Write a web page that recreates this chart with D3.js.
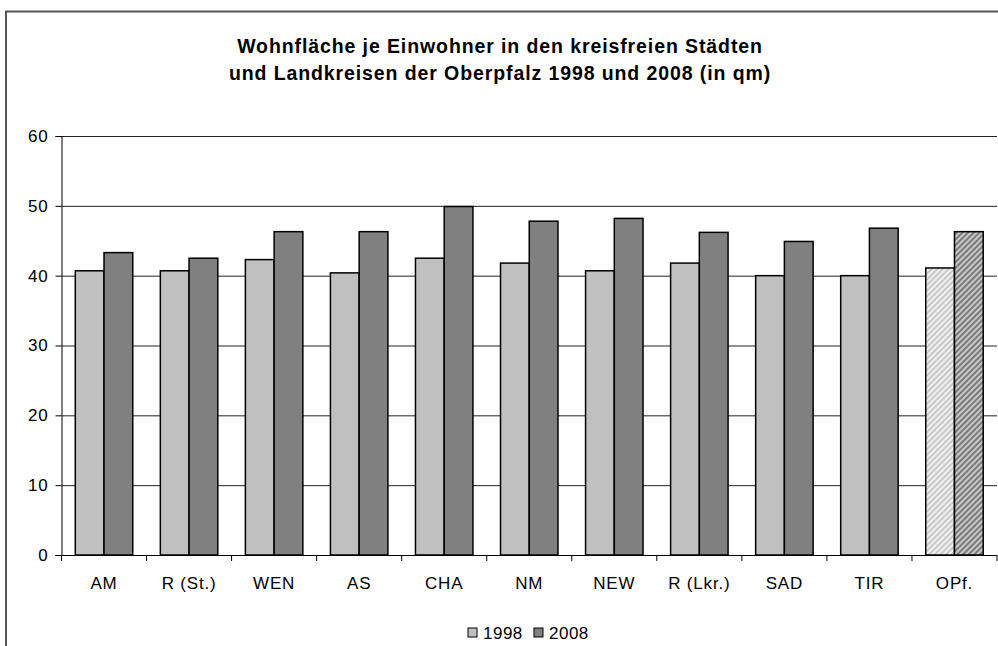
<!DOCTYPE html>
<html><head><meta charset="utf-8">
<script src="https://cdn.jsdelivr.net/npm/d3@7"></script>
<style>body{margin:0;background:#fff}svg{display:block;font-family:"Liberation Sans",Arial,sans-serif}</style>
</head><body><svg id="c" width="998" height="646"></svg>
<script>
const categories = ["AM","R (St.)","WEN","AS","CHA","NM","NEW","R (Lkr.)","SAD","TIR","OPf."];
const series1998 = [40.7,40.7,42.3,40.4,42.5,41.8,40.7,41.8,40.0,40.0,41.1];
const series2008 = [43.3,42.5,46.3,46.3,49.9,47.8,48.2,46.2,44.9,46.8,46.3];
const seriesNames = ["1998","2008"];
const yTicks = [0,10,20,30,40,50,60];
const titleLines = ["Wohnfläche je Einwohner in den kreisfreien Städten","und Landkreisen der Oberpfalz 1998 und 2008 (in qm)"];

const svg = d3.select("#c");
const fills = ["#c0c0c0","#808080"];
const defs = svg.append("defs");
[["h0","#c8c8c8","#f0f0f0"],["h1","#7a7a7a","#c8c8c8"]].forEach(([id,a,b])=>{
  const p = defs.append("pattern").attr("id",id).attr("patternUnits","userSpaceOnUse")
    .attr("width",4).attr("height",4).attr("patternTransform","rotate(45)");
  p.append("rect").attr("width",4).attr("height",4).attr("fill",b);
  p.append("rect").attr("width",2).attr("height",4).attr("fill",a);
});

// frame
svg.append("path").attr("d","M6,646 V11.5 H1000").attr("fill","none").attr("stroke","#555").attr("stroke-width",2);

const L=61.5,R=997,T=136,B=555;
const x = d3.scaleBand().domain(categories).range([L,R]).paddingInner(0).paddingOuter(0);
const inner = d3.scaleBand().domain(seriesNames).range([0,x.bandwidth()]).paddingInner(0).paddingOuter(0.48);
const y = d3.scaleLinear().domain([0,60]).range([B,T]);

// gridlines
svg.append("g").selectAll("line").data(yTicks.slice(1)).join("line")
  .attr("x1",L).attr("x2",R).attr("y1",d=>y(d)+0.5).attr("y2",d=>y(d)+0.5)
  .attr("stroke","#222").attr("stroke-width",1);

// bars
const data = categories.map((c,i)=>({c,vals:[series1998[i],series2008[i]],hatch:c==="OPf."}));
const g = svg.append("g");
data.forEach(d=>{
  d.vals.forEach((v,j)=>{
    g.append("rect")
      .attr("x",x(d.c)+inner(seriesNames[j]))
      .attr("y",y(v))
      .attr("width",inner.bandwidth())
      .attr("height",y(0)-y(v))
      .attr("fill",d.hatch?`url(#h${j})`:fills[j])
      .attr("stroke","#000").attr("stroke-width",1.5);
  });
});

// y axis
const ya = svg.append("g").attr("transform",`translate(${L},0)`)
  .call(d3.axisLeft(y).tickValues(yTicks).tickSize(6).tickPadding(7).tickFormat(d3.format("d")));
ya.select(".domain").attr("stroke","#000");
ya.selectAll(".tick line").attr("stroke","#000");
ya.selectAll("text").attr("font-size",17).attr("letter-spacing",0.8).attr("fill","#000").attr("font-family","Liberation Sans, Arial, sans-serif");

// x axis
const xa = svg.append("g").attr("transform",`translate(0,${B})`);
xa.append("line").attr("x1",L).attr("x2",R).attr("y1",0.5).attr("y2",0.5).attr("stroke","#000");
xa.selectAll("line.t").data(d3.range(categories.length+1)).join("line").attr("class","t")
  .attr("x1",i=>L+i*x.bandwidth()).attr("x2",i=>L+i*x.bandwidth()).attr("y1",0).attr("y2",6).attr("stroke","#000");
xa.selectAll("text").data(categories).join("text")
  .attr("x",d=>x(d)+x.bandwidth()/2).attr("y",34).attr("text-anchor","middle")
  .attr("font-size",17).attr("letter-spacing",0.8).attr("fill","#000").text(d=>d);

// title
svg.append("g").selectAll("text").data(titleLines).join("text")
  .attr("x",500).attr("y",(d,i)=>53+i*27).attr("text-anchor","middle")
  .attr("font-weight","bold").attr("font-size",19.5).attr("letter-spacing",0.9).attr("fill","#000").text(d=>d);

// legend
const lg = svg.append("g").attr("transform","translate(468,633)");
const lx=[0,66];
seriesNames.forEach((n,j)=>{
  lg.append("rect").attr("x",lx[j]).attr("y",-5).attr("width",9).attr("height",9).attr("fill",fills[j]).attr("stroke","#000").attr("stroke-width",1);
  lg.append("text").attr("x",lx[j]+15).attr("y",6).attr("font-size",17).attr("letter-spacing",0.5).attr("fill","#000").text(n);
});
</script></body></html>
